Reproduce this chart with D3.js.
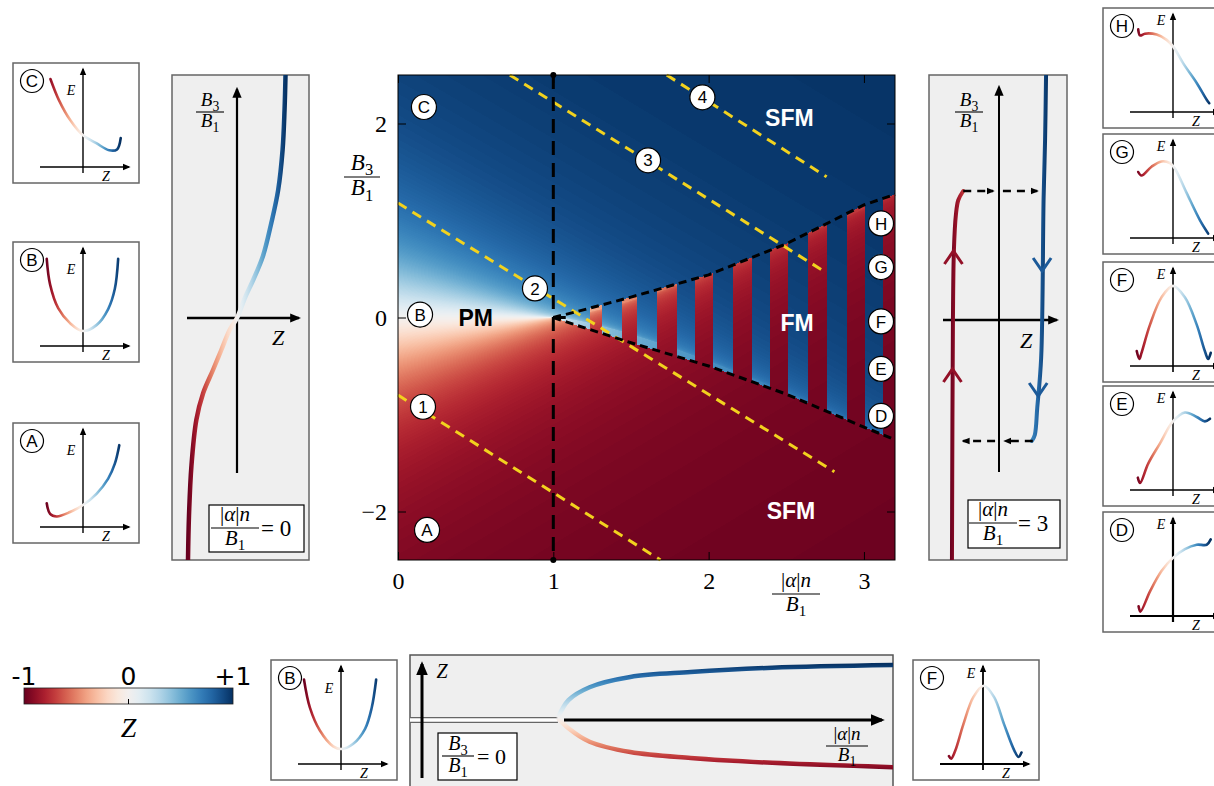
<!DOCTYPE html>
<html>
<head>
<meta charset="utf-8">
<script src="https://cdn.jsdelivr.net/npm/d3@7"></script>
<style>
  body { margin: 0; background: #fff; }
  svg { display: block; }
</style>
</head>
<body>
<svg id="fig" width="1214" height="786"></svg>
<script>
// ---- values ----
const xTicks = [0, 1, 2, 3];
const yTicks = [-2, 0, 2];

// edges of the bistable wedge (black dashed)
const wedgeA = [1.0, 1.15, 1.5, 2.0, 2.5, 3.0, 3.2];
const wedgeTop = [0, 0.06, 0.21, 0.44, 0.76, 1.16, 1.27];
const wedgeBottom = [0, -0.08, -0.26, -0.50, -0.79, -1.13, -1.26];

// red stripes inside the wedge (|alpha|n/B1 ranges)
const redStripeStart = [1.236, 1.442, 1.668, 1.912, 2.157, 2.395, 2.640, 2.891, 3.123];
const redStripeEnd = [1.314, 1.539, 1.797, 2.028, 2.279, 2.511, 2.762, 3.007, 3.2];

// yellow dashed paths 1-4
const guideIds = ["1", "2", "3", "4"];
const guideA0 = [0, 0, 0.72, 1.73];
const guideB0 = [-0.80, 1.18, 2.5, 2.5];
const guideA1 = [1.69, 2.81, 2.76, 2.76];
const guideB1 = [-2.5, -1.59, 0.46, 1.45];
const guideLabelA = [0.161, 0.882, 1.61, 1.96];
const guideLabelB = [-0.92, 0.30, 1.62, 2.27];

// lettered states
const stateIds = ["A", "B", "C", "D", "E", "F", "G", "H"];
const stateA = [0.187, 0.142, 0.167, 3.11, 3.11, 3.11, 3.11, 3.11];
const stateB = [-2.19, 0.03, 2.17, -1.015, -0.53, -0.04, 0.52, 0.97];

const phaseNames = ["PM", "SFM", "FM", "SFM"];
const phaseA = [0.50, 2.52, 2.57, 2.53];
const phaseB = [0.0, 2.06, -0.05, -1.99];

// side panel |alpha|n/B1 = 0
const zeroZ = [-1.0, -0.98, -0.93, -0.83, -0.69, -0.49, -0.32, -0.15, 0, 0.16, 0.33, 0.53, 0.70, 0.84, 0.93, 0.97, 0.99];
const zeroB = [-2.42, -1.98, -1.48, -1.02, -0.75, -0.52, -0.32, -0.12, 0, 0.20, 0.38, 0.62, 0.95, 1.28, 1.68, 2.08, 2.43];

// side panel |alpha|n/B1 = 3
const threeRedZ = [-0.96, -0.95, -0.94, -0.92, -0.88, -0.83, -0.73];
const threeRedB = [-2.4, -1.0, 0, 0.7, 1.05, 1.2, 1.29];
const threeBlueZ = [0.96, 0.94, 0.91, 0.86, 0.78, 0.73, 0.67];
const threeBlueB = [2.45, 1.8, 1.22, -0.38, -0.88, -1.15, -1.21];
const redArrowZ = [-0.93, -0.95], redArrowB = [0.65, -0.53];
const blueArrowZ = [0.88, 0.80], blueArrowB = [0.53, -0.72];
const jumpUpB = 1.29, jumpUpZ = [-0.73, -0.12, 0.08, 0.78];
const jumpDownB = -1.21, jumpDownZ = [0.69, 0.12, -0.08, -0.73];

// bottom panel B3/B1 = 0
const pitchA = [0.98, 1.05, 1.19, 1.46, 1.86, 2.40, 3.2];
const pitchUpZ = [0, 0.33, 0.57, 0.76, 0.85, 0.93, 0.98];
const pitchLowZ = [0, -0.19, -0.44, -0.63, -0.74, -0.83, -0.91];

// energy insets E(Z)
const curveAz = [-0.98, -0.89, -0.71, -0.35, 0, 0.37, 0.68, 0.86, 0.98];
const curveAe = [0.27, 0.15, 0.12, 0.17, 0.25, 0.38, 0.55, 0.72, 0.93];
const curveBz = [-0.98, -0.89, -0.67, -0.35, 0, 0.37, 0.68, 0.86, 0.95];
const curveBe = [0.99, 0.70, 0.43, 0.26, 0.17, 0.24, 0.42, 0.65, 0.99];
const curveCz = [-0.88, -0.65, -0.34, 0, 0.36, 0.71, 0.92, 1.02];
const curveCe = [1.0, 0.76, 0.53, 0.36, 0.27, 0.19, 0.20, 0.33];
const curveDz = [-0.93, -0.88, -0.62, -0.31, 0, 0.32, 0.64, 0.91, 1.02];
const curveDe = [0.11, 0.05, 0.28, 0.51, 0.66, 0.76, 0.81, 0.81, 0.87];
const curveEz = [-0.95, -0.89, -0.67, -0.35, 0, 0.32, 0.64, 0.86, 1.0];
const curveEe = [0.14, 0.08, 0.30, 0.53, 0.78, 0.88, 0.83, 0.78, 0.81];
const curveFz = [-0.98, -0.91, -0.85, -0.62, -0.31, 0, 0.32, 0.64, 0.86, 0.95, 1.02];
const curveFe = [0.17, 0.08, 0.15, 0.47, 0.78, 0.91, 0.78, 0.47, 0.17, 0.08, 0.15];
const curveGz = [-0.94, -0.85, -0.58, -0.31, -0.08, 0.05, 0.37, 0.73, 0.95];
const curveGe = [0.75, 0.71, 0.81, 0.87, 0.85, 0.79, 0.51, 0.20, 0.05];
const curveHz = [-0.94, -0.89, -0.76, -0.44, -0.17, 0.01, 0.28, 0.64, 0.91, 0.98];
const curveHe = [0.94, 0.87, 0.89, 0.88, 0.82, 0.74, 0.55, 0.33, 0.14, 0.10];
const curveB2z = [-1.0, -0.84, -0.57, -0.21, 0.01, 0.33, 0.65, 0.83, 0.95];
const curveB2e = [0.96, 0.64, 0.38, 0.20, 0.17, 0.23, 0.40, 0.64, 0.96];
const curveF2z = [-0.92, -0.86, -0.75, -0.53, -0.26, 0.02, 0.30, 0.57, 0.85, 0.96, 1.04];
const curveF2e = [0.09, 0.06, 0.15, 0.45, 0.76, 0.89, 0.76, 0.45, 0.15, 0.08, 0.13];

const cbTicks = [-1, 0, 1];
const cbLabels = ["-1", "0", "+1"];

// ---- setup ----
const svg = d3.select("#fig");
const defs = svg.append("defs");
const SERIF = "'Liberation Serif', 'DejaVu Serif', serif";
const SANS = "'Liberation Sans', Arial, sans-serif";
const YELLOW = "#f2d21e";

function rdbuGradient(id, x1, y1, x2, y2) {
  const gr = defs.append("linearGradient").attr("id", id)
    .attr("gradientUnits", "userSpaceOnUse")
    .attr("x1", x1).attr("y1", y1).attr("x2", x2).attr("y2", y2);
  d3.range(21).forEach(i => gr.append("stop")
    .attr("offset", i / 20).attr("stop-color", d3.interpolateRdBu(i / 20)));
}

function marker(id, size) {
  defs.append("marker").attr("id", id)
    .attr("viewBox", "0 0 10 10").attr("refX", 8).attr("refY", 5)
    .attr("markerWidth", size).attr("markerHeight", size)
    .attr("markerUnits", "userSpaceOnUse").attr("orient", "auto")
    .append("path").attr("d", "M0,0.8 L10,5 L0,9.2 Z").attr("fill", "#000");
}
marker("arrSmall", 8);
marker("arrMid", 11);
marker("arrBig", 14);

function mathLine(parent, x, yb, parts, size, anchor) {
  const t = parent.append("text").attr("x", x).attr("y", yb)
    .attr("font-size", size).attr("font-family", SERIF)
    .attr("text-anchor", anchor || "middle");
  let shifted = 0;
  parts.forEach(p => {
    const ts = t.append("tspan").text(p.t);
    if (p.i) ts.attr("font-style", "italic");
    const want = p.sub ? size * 0.25 : 0;
    if (want !== shifted) { ts.attr("dy", want - shifted); shifted = want; }
    if (p.sub) ts.attr("font-size", size * 0.72);
  });
  return t;
}
function fraction(parent, cx, yBar, num, den, size, barW) {
  mathLine(parent, cx, yBar - size * 0.32, num, size);
  parent.append("line").attr("x1", cx - barW / 2).attr("x2", cx + barW / 2)
    .attr("y1", yBar).attr("y2", yBar).attr("stroke", "#000").attr("stroke-width", 1.1);
  mathLine(parent, cx, yBar + size * 0.8, den, size);
}
const B3 = [{ t: "B", i: true }, { t: "3", sub: true }];
const B1 = [{ t: "B", i: true }, { t: "1", sub: true }];
const AN = [{ t: "|" }, { t: "α", i: true }, { t: "|" }, { t: "n", i: true }];

function badge(parent, cx, cy, txt, r, fs) {
  parent.append("circle").attr("cx", cx).attr("cy", cy).attr("r", r)
    .attr("fill", "#fff").attr("stroke", "#000").attr("stroke-width", 1.2);
  parent.append("text").attr("x", cx).attr("y", cy).attr("dy", "0.36em")
    .attr("text-anchor", "middle").attr("font-family", SANS)
    .attr("font-size", fs).text(txt);
}

// ---- main phase diagram ----
const x = d3.scaleLinear([0, 3.2], [398, 895]);
const y = d3.scaleLinear([-2.5, 2.5], [560, 75]);
const topAt = d3.scaleLinear(wedgeA, wedgeTop).clamp(true);
const botAt = d3.scaleLinear(wedgeA, wedgeBottom).clamp(true);

// Z colour field: stable root of B3/B1 = Z/sqrt(1-Z^2) - (|a|n/B1) Z
function rootZ(a, b, lo, hi) {
  for (let k = 0; k < 36; k++) {
    const m = (lo + hi) / 2;
    const g = m / Math.sqrt(1 - m * m) - a * m;
    if (g < b) lo = m; else hi = m;
  }
  return (lo + hi) / 2;
}
function inRed(a) {
  return redStripeStart.some((s, k) => a >= s && a < redStripeEnd[k]);
}
const W = Math.round(x(3.2) - x(0)), H = Math.round(y(-2.5) - y(2.5));
const canvas = document.createElement("canvas");
canvas.width = W; canvas.height = H;
const ctx = canvas.getContext("2d");
const img = ctx.createImageData(W, H);
const lut = d3.range(256).map(i => d3.rgb(d3.interpolateRdBu(i / 255)));
for (let j = 0; j < H; j++) {
  const b = y.invert(y(2.5) + j + 0.5);
  for (let i = 0; i < W; i++) {
    const a = x.invert(x(0) + i + 0.5);
    let lo = -0.999999, hi = 0.999999;
    if (a > 1) {
      const zc = Math.sqrt(1 - Math.pow(a, -2 / 3));
      let upper;
      if (b > topAt(a)) upper = true;
      else if (b < botAt(a)) upper = false;
      else upper = !inRed(a);
      if (upper) lo = zc; else hi = -zc;
    }
    const z = rootZ(a, b, lo, hi);
    const c = lut[Math.max(0, Math.min(255, Math.round((z + 1) / 2 * 255)))];
    const p = (j * W + i) * 4;
    img.data[p] = c.r; img.data[p + 1] = c.g; img.data[p + 2] = c.b; img.data[p + 3] = 255;
  }
}
ctx.putImageData(img, 0, 0);
svg.append("image").attr("x", x(0)).attr("y", y(2.5))
  .attr("width", W).attr("height", H).attr("preserveAspectRatio", "none")
  .attr("href", canvas.toDataURL());

const main = svg.append("g");

// yellow guide lines
guideIds.forEach((id, k) => {
  main.append("line")
    .attr("x1", x(guideA0[k])).attr("y1", y(guideB0[k]))
    .attr("x2", x(guideA1[k])).attr("y2", y(guideB1[k]))
    .attr("stroke", YELLOW).attr("stroke-width", 3).attr("stroke-dasharray", "10,7");
});

// vertical dashed line at |a|n/B1 = 1
main.append("line").attr("x1", x(1)).attr("x2", x(1)).attr("y1", y(2.5)).attr("y2", y(-2.5))
  .attr("stroke", "#000").attr("stroke-width", 3).attr("stroke-dasharray", "14,8");
[2.5, -2.5].forEach(v => main.append("circle").attr("cx", x(1)).attr("cy", y(v)).attr("r", 3).attr("fill", "#000"));
main.append("line").attr("x1", x(1)).attr("x2", x(1.08)).attr("y1", y(0)).attr("y2", y(0))
  .attr("stroke", "#000").attr("stroke-width", 3);

// wedge boundaries
const wedgeLine = d3.line().x(d => x(d[0])).y(d => y(d[1]));
[wedgeTop, wedgeBottom].forEach(arr => {
  main.append("path").attr("d", wedgeLine(wedgeA.map((a, k) => [a, arr[k]])))
    .attr("fill", "none").attr("stroke", "#000").attr("stroke-width", 3)
    .attr("stroke-dasharray", "8,5");
});

// frame and axes
main.append("rect").attr("x", x(0)).attr("y", y(2.5)).attr("width", W).attr("height", H)
  .attr("fill", "none").attr("stroke", "#000").attr("stroke-width", 1);

function styleAxis(g) {
  g.select(".domain").remove();
  g.selectAll("line").attr("stroke", "#000");
  g.attr("font-family", SERIF).attr("font-size", 24);
}
svg.append("g").attr("transform", `translate(0,${y(-2.5)})`)
  .call(d3.axisBottom(x).tickValues(xTicks).tickSize(-8).tickPadding(12).tickFormat(d3.format("d")))
  .call(styleAxis);
svg.append("g").attr("transform", `translate(0,${y(2.5)})`)
  .call(d3.axisTop(x).tickValues(xTicks).tickSize(-8).tickFormat(""))
  .call(styleAxis);
svg.append("g").attr("transform", `translate(${x(0)},0)`)
  .call(d3.axisLeft(y).tickValues(yTicks).tickSize(-8).tickPadding(11).tickFormat(d3.format("d")))
  .call(styleAxis);
svg.append("g").attr("transform", `translate(${x(3.2)},0)`)
  .call(d3.axisRight(y).tickValues(yTicks).tickSize(-8).tickFormat(""))
  .call(styleAxis);

fraction(svg, 362, 177, B3, B1, 23, 36);
fraction(svg, 796, 594, AN, B1, 21, 48);

// phase names
phaseNames.forEach((n, k) => {
  svg.append("text").attr("x", x(phaseA[k])).attr("y", y(phaseB[k])).attr("dy", "0.36em")
    .attr("text-anchor", "middle").attr("font-family", SANS).attr("font-weight", "bold")
    .attr("font-size", 23).attr("fill", n === "PM" ? "#000" : "#fff").text(n);
});
guideIds.forEach((id, k) => badge(svg, x(guideLabelA[k]), y(guideLabelB[k]), id, 12.5, 17));
stateIds.forEach((id, k) => badge(svg, x(stateA[k]), y(stateB[k]), id, 12.5, 17));

// ---- energy insets ----
const insetZ = d3.scaleLinear([-1, 1], [33, 107]);
const insetE = d3.scaleLinear([0, 1], [104, 16]);
rdbuGradient("gInset", insetZ(-1), 0, insetZ(1), 0);
const insetLine = d3.line().x(d => insetZ(d[0])).y(d => insetE(d[1]))
  .curve(d3.curveCatmullRom.alpha(0.5));

function inset(x0, y0, id, zs, es, eBase, axisW) {
  const g = svg.append("g").attr("transform", `translate(${x0},${y0})`);
  g.append("rect").attr("x", 0).attr("y", 0).attr("width", 126).attr("height", 120)
    .attr("fill", "#fff").attr("stroke", "#666").attr("stroke-width", 1.5);
  g.append("line").attr("x1", 70).attr("x2", 70).attr("y1", 110).attr("y2", 6)
    .attr("stroke", "#000").attr("stroke-width", axisW).attr("marker-end", "url(#arrSmall)");
  g.append("line").attr("x1", 27).attr("x2", 116).attr("y1", 104).attr("y2", 104)
    .attr("stroke", "#000").attr("stroke-width", axisW).attr("marker-end", "url(#arrSmall)");
  g.append("path").attr("d", insetLine(zs.map((z, k) => [z, es[k]])))
    .attr("fill", "none").attr("stroke", "url(#gInset)").attr("stroke-width", 2.6)
    .attr("stroke-linecap", "round").attr("stroke-linejoin", "round");
  g.append("text").attr("x", 58).attr("y", eBase).attr("text-anchor", "middle")
    .attr("font-family", SERIF).attr("font-style", "italic").attr("font-size", 14).text("E");
  g.append("text").attr("x", 93).attr("y", 118).attr("text-anchor", "middle")
    .attr("font-family", SERIF).attr("font-style", "italic").attr("font-size", 14).text("Z");
  badge(g, 19, 18, id, 11.5, 17);
}
inset(13, 63, "C", curveCz, curveCe, 32, 1.4);
inset(13, 242, "B", curveBz, curveBe, 32, 1.4);
inset(13, 423, "A", curveAz, curveAe, 32, 1.4);
inset(1103, 8, "H", curveHz, curveHe, 17, 1.4);
inset(1103, 134, "G", curveGz, curveGe, 17, 1.4);
inset(1103, 262, "F", curveFz, curveFe, 17, 1.6);
inset(1103, 386, "E", curveEz, curveEe, 17, 1.4);
inset(1103, 512, "D", curveDz, curveDe, 17, 2.2);
inset(271, 660, "B", curveB2z, curveB2e, 33, 1.4);
inset(913, 660, "F", curveF2z, curveF2e, 18, 1.8);

// ---- side panel |a|n/B1 = 0 ----
const zL = d3.scaleLinear([-1, 1], [188, 286]);
const bL = d3.scaleLinear([-2.42, 2.43], [560, 75]);
rdbuGradient("gLeft", zL(-1), 0, zL(1), 0);
svg.append("clipPath").attr("id", "clipL").append("rect").attr("x", 172).attr("y", 75).attr("width", 137).attr("height", 485);
svg.append("rect").attr("x", 172).attr("y", 75).attr("width", 137).attr("height", 485)
  .attr("fill", "#efefef").attr("stroke", "#666").attr("stroke-width", 1.5);
svg.append("line").attr("x1", zL(0)).attr("x2", zL(0)).attr("y1", 473).attr("y2", 89)
  .attr("stroke", "#000").attr("stroke-width", 2.2).attr("marker-end", "url(#arrMid)");
svg.append("line").attr("x1", 187).attr("x2", 299).attr("y1", bL(0)).attr("y2", bL(0))
  .attr("stroke", "#000").attr("stroke-width", 2.6).attr("marker-end", "url(#arrMid)");
const sideLine = (zs, bs, zs_, bs_) => d3.line().x((d, k) => zs_(zs[k])).y((d, k) => bs_(bs[k]))
  .curve(d3.curveCatmullRom.alpha(0.5))(zs);
svg.append("path").attr("clip-path", "url(#clipL)")
  .attr("d", sideLine(zeroZ, zeroB, zL, bL))
  .attr("fill", "none").attr("stroke", "url(#gLeft)").attr("stroke-width", 4.5);
fraction(svg, 210, 112, B3, B1, 19, 28);
svg.append("text").attr("x", 278).attr("y", 345).attr("text-anchor", "middle")
  .attr("font-family", SERIF).attr("font-style", "italic").attr("font-size", 22).text("Z");
svg.append("rect").attr("x", 209).attr("y", 505).attr("width", 95).attr("height", 47)
  .attr("fill", "#fff").attr("stroke", "#000").attr("stroke-width", 1.2);
fraction(svg, 235, 528, AN, B1, 21, 48);
svg.append("text").attr("x", 261).attr("y", 536).attr("font-family", SERIF).attr("font-size", 23).text("= 0");

// ---- side panel |a|n/B1 = 3 ----
const zR = d3.scaleLinear([-1, 1], [950, 1048]);
const bR = d3.scaleLinear([-2.4, 2.45], [560, 75]);
rdbuGradient("gRight", zR(-1), 0, zR(1), 0);
svg.append("clipPath").attr("id", "clipR").append("rect").attr("x", 929).attr("y", 75).attr("width", 138).attr("height", 485);
svg.append("rect").attr("x", 929).attr("y", 75).attr("width", 138).attr("height", 485)
  .attr("fill", "#efefef").attr("stroke", "#666").attr("stroke-width", 1.5);
svg.append("line").attr("x1", zR(0)).attr("x2", zR(0)).attr("y1", 472).attr("y2", 87)
  .attr("stroke", "#000").attr("stroke-width", 2).attr("marker-end", "url(#arrMid)");
svg.append("line").attr("x1", 943).attr("x2", 1057).attr("y1", bR(0)).attr("y2", bR(0))
  .attr("stroke", "#000").attr("stroke-width", 2.4).attr("marker-end", "url(#arrMid)");
[[threeRedZ, threeRedB], [threeBlueZ, threeBlueB]].forEach(([zs, bs]) => {
  svg.append("path").attr("clip-path", "url(#clipR)").attr("d", sideLine(zs, bs, zR, bR))
    .attr("fill", "none").attr("stroke", "url(#gRight)").attr("stroke-width", 4)
    .attr("stroke-linecap", "round");
});
redArrowZ.forEach((z, k) => svg.append("path")
  .attr("transform", `translate(${zR(z)},${bR(redArrowB[k])})`)
  .attr("d", "M-9,9 L0,-4 L9,9").attr("fill", "none")
  .attr("stroke", d3.interpolateRdBu(0.06)).attr("stroke-width", 3));
blueArrowZ.forEach((z, k) => svg.append("path")
  .attr("transform", `translate(${zR(z)},${bR(blueArrowB[k])})`)
  .attr("d", "M-9,-9 L0,4 L9,-9").attr("fill", "none")
  .attr("stroke", d3.interpolateRdBu(0.92)).attr("stroke-width", 3));
function jump(b, zs) {
  [[zs[0], zs[1]], [zs[2], zs[3]]].forEach(([z0, z1]) => {
    svg.append("line").attr("x1", zR(z0)).attr("x2", zR(z1)).attr("y1", bR(b)).attr("y2", bR(b))
      .attr("stroke", "#000").attr("stroke-width", 2.6).attr("stroke-dasharray", "8,6")
      .attr("marker-end", "url(#arrSmall)");
  });
}
jump(jumpUpB, jumpUpZ);
jump(jumpDownB, jumpDownZ);
fraction(svg, 969, 112, B3, B1, 19, 28);
svg.append("text").attr("x", 1026).attr("y", 348).attr("text-anchor", "middle")
  .attr("font-family", SERIF).attr("font-style", "italic").attr("font-size", 22).text("Z");
svg.append("rect").attr("x", 968).attr("y", 500).attr("width", 92).attr("height", 48)
  .attr("fill", "#fff").attr("stroke", "#000").attr("stroke-width", 1.2);
fraction(svg, 993, 523, AN, B1, 21, 48);
svg.append("text").attr("x", 1018).attr("y", 531).attr("font-family", SERIF).attr("font-size", 23).text("= 3");

// ---- bottom panel B3/B1 = 0 ----
const aB = d3.scaleLinear([0, 3.2], [410, 893]);
const zB = d3.scaleLinear([-1, 1], [772, 664]);
rdbuGradient("gBottom", 0, zB(-1), 0, zB(1));
svg.append("clipPath").attr("id", "clipB").append("rect").attr("x", 410).attr("y", 655).attr("width", 483).attr("height", 140);
svg.append("rect").attr("x", 410).attr("y", 655).attr("width", 483).attr("height", 140)
  .attr("fill", "#efefef").attr("stroke", "#555").attr("stroke-width", 1.5);
svg.append("line").attr("x1", aB(0)).attr("x2", aB(pitchA[0])).attr("y1", 720).attr("y2", 720)
  .attr("stroke", "#666").attr("stroke-width", 6);
svg.append("line").attr("x1", aB(0)).attr("x2", aB(pitchA[0])).attr("y1", 720).attr("y2", 720)
  .attr("stroke", "#fff").attr("stroke-width", 3.6);
const pitchLine = d3.line().x((d, k) => aB(pitchA[k])).y(d => zB(d)).curve(d3.curveCatmullRom.alpha(0.5));
[pitchUpZ, pitchLowZ].forEach(arr => {
  svg.append("path").attr("clip-path", "url(#clipB)").attr("d", pitchLine(arr))
    .attr("fill", "none").attr("stroke", "url(#gBottom)").attr("stroke-width", 4.5);
});
svg.append("line").attr("x1", 564).attr("x2", 882).attr("y1", 720).attr("y2", 720)
  .attr("stroke", "#000").attr("stroke-width", 3).attr("marker-end", "url(#arrBig)");
svg.append("line").attr("x1", 422).attr("x2", 422).attr("y1", 778).attr("y2", 664)
  .attr("stroke", "#000").attr("stroke-width", 3).attr("marker-end", "url(#arrBig)");
svg.append("text").attr("x", 442).attr("y", 678).attr("text-anchor", "middle")
  .attr("font-family", SERIF).attr("font-style", "italic").attr("font-size", 20).text("Z");
fraction(svg, 847, 746, AN, B1, 19, 42);
svg.append("rect").attr("x", 438).attr("y", 733).attr("width", 79).attr("height", 47)
  .attr("fill", "#fff").attr("stroke", "#000").attr("stroke-width", 1.2);
fraction(svg, 458, 756, B3, B1, 20, 32);
svg.append("text").attr("x", 477).attr("y", 764).attr("font-family", SERIF).attr("font-size", 22).text("= 0");

// ---- colour bar ----
const cb = d3.scaleLinear([-1, 1], [24, 233]);
rdbuGradient("gBar", cb(-1), 0, cb(1), 0);
svg.append("rect").attr("x", cb(-1)).attr("y", 688).attr("width", cb(1) - cb(-1)).attr("height", 16)
  .attr("fill", "url(#gBar)").attr("stroke", "#222").attr("stroke-width", 0.8);
svg.append("line").attr("x1", cb(0)).attr("x2", cb(0)).attr("y1", 699).attr("y2", 704)
  .attr("stroke", "#000").attr("stroke-width", 1);
cbTicks.forEach((t, k) => svg.append("text").attr("x", cb(t)).attr("y", 685)
  .attr("text-anchor", "middle").attr("font-family", "'DejaVu Sans', sans-serif")
  .attr("font-size", 25).text(cbLabels[k]));
svg.append("text").attr("x", cb(0)).attr("y", 737).attr("text-anchor", "middle")
  .attr("font-family", SERIF).attr("font-style", "italic").attr("font-size", 28).text("Z");
</script>
</body>
</html>
